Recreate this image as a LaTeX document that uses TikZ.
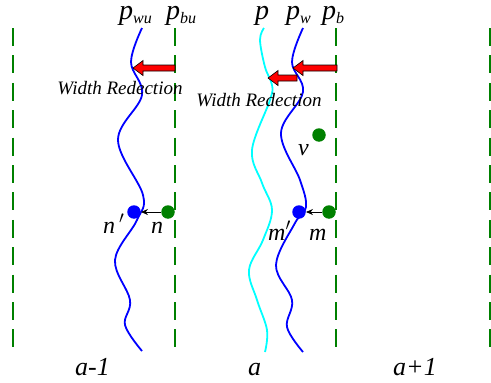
\documentclass[tikz,border=0pt]{standalone}
\usepackage{fontspec}
\setmainfont{Liberation Serif}
\usetikzlibrary{arrows.meta}
\definecolor{dgreen}{RGB}{0,128,0}
\definecolor{lcyan}{RGB}{0,255,255}
\definecolor{lblue}{RGB}{0,0,255}
\definecolor{lred}{RGB}{255,0,0}
\newcommand{\subx}[1]{\raisebox{-4pt}{\fontsize{16}{18}\selectfont #1}}
\begin{document}
\begin{tikzpicture}[x=1pt,y=-1pt,
  lane/.style={dgreen,line width=2.5pt,dash pattern=on 18pt off 9.4pt},
  wave/.style={line width=1.8pt,smooth,tension=0.6},
  bdot/.style={circle,fill=lblue,inner sep=0pt,minimum size=13.5pt},
  gdot/.style={circle,fill=dgreen,inner sep=0pt,minimum size=13.5pt},
  lbl/.style={inner sep=0pt,anchor=base west,font=\fontsize{24}{26}\selectfont\itshape},
  plbl/.style={inner sep=0pt,anchor=base west,font=\fontsize{28}{30}\selectfont\itshape},
  albl/.style={inner sep=0pt,anchor=base west,font=\fontsize{26}{28}\selectfont\itshape},
  wr/.style={inner sep=0pt,font=\fontsize{19}{21}\selectfont\itshape},
  redarrow/.style={fill=lred,draw=black,line width=0.6pt}]
\useasboundingbox (0,0) rectangle (491,383);
% lane boundaries
\draw[lane] (13,28) -- (13,348);
\draw[lane] (175,28) -- (175,348);
\draw[lane] (336,28) -- (336,348);
\draw[lane] (490,28) -- (490,348);
% curves
\draw[wave,lblue] plot coordinates {(142,28) (131,62) (142,95) (118,140) (143,195) (137,220) (115,260) (130,300) (125,325) (142,351)};
\draw[wave,lcyan] plot coordinates {(264,28) (260,40) (265,67) (272,85) (270,100) (252,150) (262,183) (272,210) (263,240) (249,270) (257,300) (267,330) (265,352)};
\draw[wave,lblue] plot coordinates {(303,28) (292,62) (303,92) (281,133) (300,180) (306,207) (295,223) (276,265) (292,300) (287,327) (303,352)};
% red arrows
\draw[redarrow] (175,65) -- (143,65) -- (143,60.5) -- (133,68) -- (143,75.5) -- (143,71) -- (175,71) -- cycle;
\draw[redarrow] (337,65) -- (303,65) -- (303,60.5) -- (293,68) -- (303,75.5) -- (303,71) -- (337,71) -- cycle;
\draw[redarrow] (297,75) -- (278,75) -- (278,70.5) -- (268,78) -- (278,85.5) -- (278,81) -- (297,81) -- cycle;
% dots
\node[bdot] (np) at (134,212) {};
\node[gdot] (n) at (168,212) {};
\node[bdot] (mp) at (299,212) {};
\node[gdot] (m) at (329,212) {};
\node[gdot] (v) at (319,135) {};
\draw[-{Stealth[length=7pt,width=6pt]},line width=0.8pt] (n) -- (np);
\draw[-{Stealth[length=7pt,width=6pt]},line width=0.8pt] (m) -- (mp);
% labels
\node[plbl] (lpwu) at (119,19) {p\subx{wu}};
\node[plbl] (lpbu) at (166,19) {p\subx{bu}};
\node[plbl] (lp) at (255,19) {p};
\node[plbl] (lpw) at (286,19) {p\subx{w}};
\node[plbl] (lpb) at (322,19) {p\subx{b}};
\node[wr] (wr1) at (120,88) {Width Redection};
\node[wr] (wr2) at (259,100) {Width Redection};
\node[lbl] (lnp) at (103,233) {n\,$'$};
\node[lbl] (ln) at (151,233) {n};
\node[lbl] (lmp) at (268,240) {m$'$};
\node[lbl] (lm) at (309,240) {m};
\node[lbl] (lv) at (298,155) {v};
\node[albl] (la1) at (75,375) {a-1};
\node[albl] (la) at (248,375) {a};
\node[albl] (la2) at (393,375) {a+1};
\end{tikzpicture}
\end{document}
